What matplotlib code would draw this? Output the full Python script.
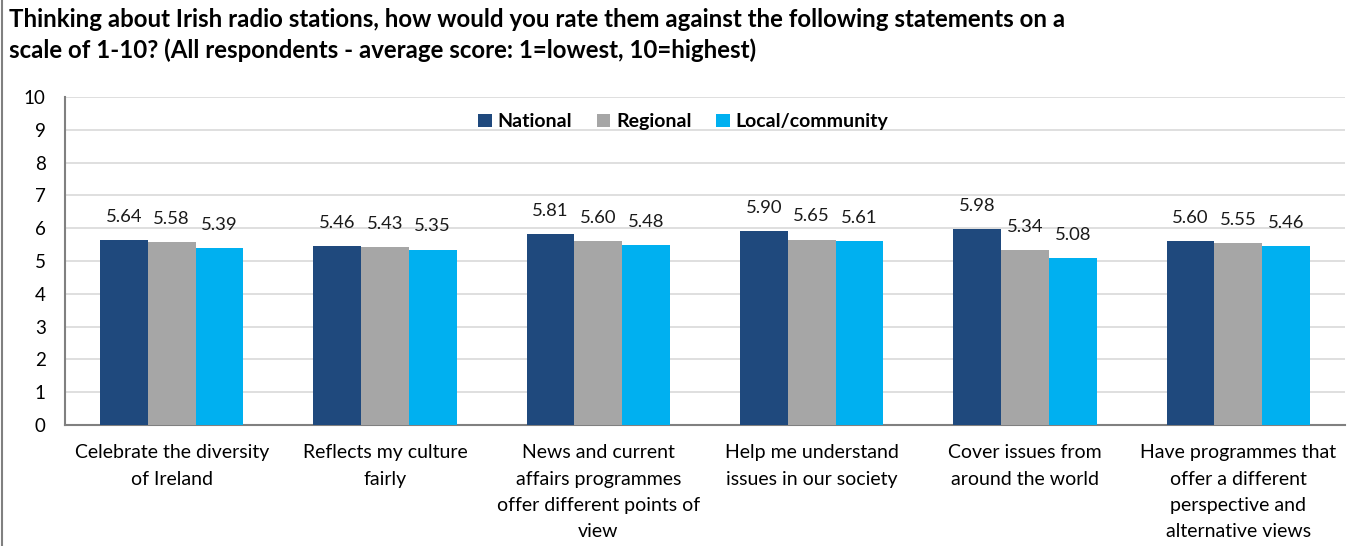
import numpy as np
import matplotlib.pyplot as plt
from matplotlib.lines import Line2D

plt.rcParams['font.family'] = ['Lato', 'DejaVu Sans']

# Data
categories = [
    "Celebrate the diversity\nof Ireland",
    "Reflects my culture\nfairly",
    "News and current\naffairs programmes\noffer different points of\nview",
    "Help me understand\nissues in our society",
    "Cover issues from\naround the world",
    "Have programmes that\noffer a different\nperspective and\nalternative views",
]
national = [5.64, 5.46, 5.81, 5.90, 5.98, 5.60]
regional = [5.58, 5.43, 5.60, 5.65, 5.34, 5.55]
local = [5.39, 5.35, 5.48, 5.61, 5.08, 5.46]
series_names = ["National", "Regional", "Local/community"]
colors = ["#1F497D", "#A6A6A6", "#00B0F0"]

fig = plt.figure(figsize=(13.55, 5.46), dpi=100)
ax = fig.add_axes([0.048, 0.2216, 0.9446, 0.6007])

x = np.arange(len(categories))
w = 0.2236
for i, (vals, name, c) in enumerate(zip([national, regional, local], series_names, colors)):
    bars = ax.bar(x + (i - 1) * w, vals, w, color=c, label=name, zorder=3)
    ax.bar_label(bars, labels=[f"{v:.2f}" for v in vals], padding=11, fontsize=13.3, color="#1a1a1a")

ax.set_xlim(-0.5, len(categories) - 0.5)
ax.set_ylim(0, 10)
ax.set_yticks(range(0, 11))
ax.yaxis.grid(True, color="#D9D9D9", linewidth=1.2, zorder=0)
ax.set_axisbelow(True)
for s in ["top", "right"]:
    ax.spines[s].set_visible(False)
for s in ["left", "bottom"]:
    ax.spines[s].set_color("#808080")
    ax.spines[s].set_linewidth(1.5)
ax.set_xticks(x)
ax.set_xticklabels(categories, fontsize=14, linespacing=1.66)
ax.tick_params(axis="x", length=0, pad=14)
ax.tick_params(axis="y", length=0, labelsize=13.5, pad=14)

leg = ax.legend(loc="center", bbox_to_anchor=(0.483, 0.924), ncol=3, frameon=False,
                handlelength=0.7, handleheight=0.7, handletextpad=0.3, columnspacing=1.25,
                prop={"weight": "bold", "size": 14})

fig.text(0.007, 0.985, "Thinking about Irish radio stations, how would you rate them against the following statements on a\n"
         "scale of 1-10? (All respondents - average score: 1=lowest, 10=highest)",
         ha="left", va="top", fontsize=17.3, fontweight="bold", linespacing=1.35)

# left border line
fig.add_artist(Line2D([0.0015, 0.0015], [0, 1], color="#808080", linewidth=1.5))

fig.savefig("out.png", dpi=100)
